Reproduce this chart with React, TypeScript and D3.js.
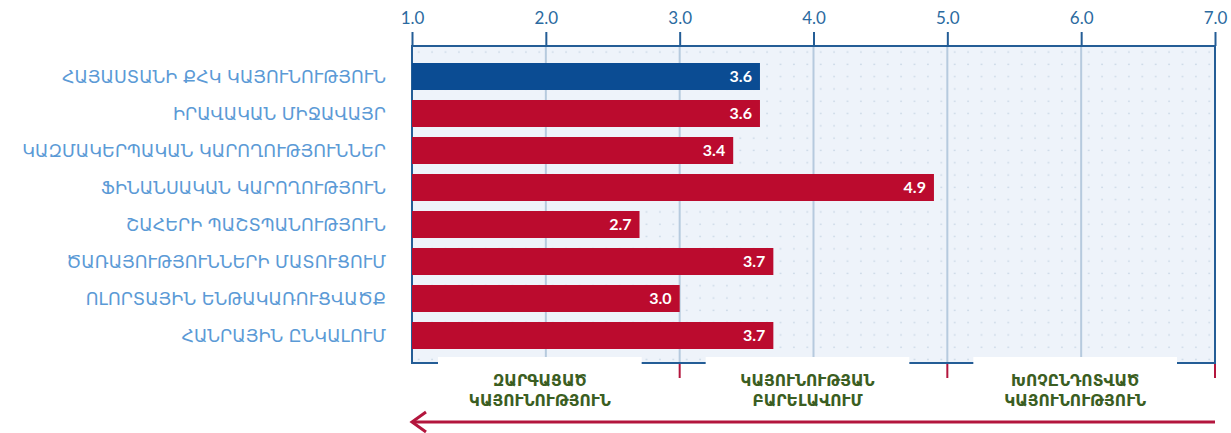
import React, { useRef, useEffect } from "react";
import * as d3 from "d3";

const categories = [
  "ՀԱՅԱՍՏԱՆԻ ՔՀԿ ԿԱՅՈՒՆՈՒԹՅՈՒՆ",
  "ԻՐԱՎԱԿԱՆ ՄԻՋԱՎԱՅՐ",
  "ԿԱԶՄԱԿԵՐՊԱԿԱՆ ԿԱՐՈՂՈՒԹՅՈՒՆՆԵՐ",
  "ՖԻՆԱՆՍԱԿԱՆ ԿԱՐՈՂՈՒԹՅՈՒՆ",
  "ՇԱՀԵՐԻ ՊԱՇՏՊԱՆՈՒԹՅՈՒՆ",
  "ԾԱՌԱՅՈՒԹՅՈՒՆՆԵՐԻ ՄԱՏՈՒՑՈՒՄ",
  "ՈԼՈՐՏԱՅԻՆ ԵՆԹԱԿԱՌՈՒՑՎԱԾՔ",
  "ՀԱՆՐԱՅԻՆ ԸՆԿԱԼՈՒՄ",
];
const scores = [3.6, 3.6, 3.4, 4.9, 2.7, 3.7, 3.0, 3.7];
const tickValues = [1, 2, 3, 4, 5, 6, 7];
const zoneBounds = [
  [1, 3],
  [3, 5],
  [5, 7],
];
const zoneLabels = [
  ["ԶԱՐԳԱՑԱԾ", "ԿԱՅՈՒՆՈՒԹՅՈՒՆ"],
  ["ԿԱՅՈՒՆՈՒԹՅԱՆ", "ԲԱՐԵԼԱՎՈՒՄ"],
  ["ԽՈՉԸՆԴՈՏՎԱԾ", "ԿԱՅՈՒՆՈՒԹՅՈՒՆ"],
];

const App: React.FC = () => {
  const ref = useRef<SVGSVGElement | null>(null);

  useEffect(() => {
    document.body.style.margin = "0";
    if (!ref.current) return;
    const svg = d3.select(ref.current);
    svg.selectAll("*").remove();

    const width = 1231;
    const height = 433;
    const top = 46;
    const bottom = 363;

    const x = d3.scaleLinear().domain([1, 7]).range([412, 1215]);
    const y = d3
      .scaleBand<string>()
      .domain(categories)
      .range([44.5, 367.5])
      .paddingInner(10 / 37)
      .paddingOuter(0.5);

    const blue = "#0b4c93";
    const red = "#bb0b2e";
    const axisBlue = "#245d96";

    svg.attr("width", width).attr("height", height);

    // dotted background
    const defs = svg.append("defs");
    const pat = defs
      .append("pattern")
      .attr("id", "dots")
      .attr("patternUnits", "userSpaceOnUse")
      .attr("x", 412)
      .attr("y", 46)
      .attr("width", 13.4)
      .attr("height", 12.3);
    pat.append("rect").attr("width", 13.4).attr("height", 12.3).attr("fill", "#eef3fa");
    pat.append("circle").attr("cx", 6.7).attr("cy", 6).attr("r", 0.9).attr("fill", "#c9d6e5");

    svg
      .append("rect")
      .attr("x", x(1))
      .attr("y", top)
      .attr("width", x(7) - x(1))
      .attr("height", bottom - top)
      .attr("fill", "url(#dots)");

    // grid lines
    svg
      .selectAll(".grid")
      .data(tickValues.slice(1, -1))
      .enter()
      .append("line")
      .attr("x1", (d) => x(d))
      .attr("x2", (d) => x(d))
      .attr("y1", top)
      .attr("y2", bottom)
      .attr("stroke", "#b6cade")
      .attr("stroke-width", 2);

    // bottom red ticks
    svg
      .selectAll(".rtick")
      .data([3, 5, 7])
      .enter()
      .append("line")
      .attr("x1", (d) => x(d))
      .attr("x2", (d) => x(d))
      .attr("y1", bottom)
      .attr("y2", 378)
      .attr("stroke", "#b3163d")
      .attr("stroke-width", 2);

    // frame
    svg
      .append("path")
      .attr("d", `M${x(1)},${top}H${x(7)}V${bottom}H${x(1)}Z`)
      .attr("fill", "none")
      .attr("stroke", axisBlue)
      .attr("stroke-width", 2);

    // top axis
    const axis = svg
      .append("g")
      .attr("transform", `translate(0,${top})`)
      .call(
        d3
          .axisTop(x)
          .tickValues(tickValues)
          .tickSize(14)
          .tickSizeOuter(0)
          .tickPadding(8)
          .tickFormat(d3.format(".1f"))
      );
    axis.select(".domain").remove();
    axis.selectAll("line").attr("stroke", axisBlue).attr("stroke-width", 2);
    axis
      .selectAll("text")
      .attr("fill", "#2b6aa0")
      .style("font-family", "Lato, 'Open Sans', sans-serif")
      .style("font-size", "17px");

    // bars
    svg
      .selectAll(".bar")
      .data(scores)
      .enter()
      .append("rect")
      .attr("x", x(1))
      .attr("y", (_, i) => y(categories[i])!)
      .attr("width", (d) => x(d) - x(1))
      .attr("height", y.bandwidth())
      .attr("fill", (_, i) => (i === 0 ? blue : red));

    svg
      .selectAll(".val")
      .data(scores)
      .enter()
      .append("text")
      .attr("x", (d) => x(d) - 8)
      .attr("y", (_, i) => y(categories[i])! + y.bandwidth() / 2)
      .attr("dy", "0.36em")
      .attr("text-anchor", "end")
      .attr("fill", "#fff")
      .style("font-family", "Lato, 'Open Sans', sans-serif")
      .style("font-weight", "bold")
      .style("font-size", "16px")
      .text((d) => d.toFixed(1));

    // category labels
    svg
      .selectAll(".cat")
      .data(categories)
      .enter()
      .append("text")
      .attr("x", 386)
      .attr("y", (d) => y(d)! + y.bandwidth() / 2)
      .attr("dy", "0.36em")
      .attr("text-anchor", "end")
      .attr("fill", "#5b9ad6")
      .style("font-family", "'DejaVu Sans', sans-serif")
      .style("font-size", "17.5px")
      .text((d) => d);

    // arrow
    svg
      .append("line")
      .attr("x1", x(1))
      .attr("x2", x(7))
      .attr("y1", 422)
      .attr("y2", 422)
      .attr("stroke", "#b3163d")
      .attr("stroke-width", 3);
    svg
      .append("path")
      .attr("d", `M${x(1) + 14},${412}L${x(1)},${422}L${x(1) + 14},${432}`)
      .attr("fill", "none")
      .attr("stroke", "#b3163d")
      .attr("stroke-width", 3);

    // zone boxes
    const zones = svg
      .selectAll(".zone")
      .data(zoneBounds)
      .enter()
      .append("g");
    zones
      .append("rect")
      .attr("x", (d) => x(d[0]) + 26)
      .attr("y", 357)
      .attr("width", (d) => x(d[1]) - 38 - (x(d[0]) + 26))
      .attr("height", 62)
      .attr("fill", "#fff");
    zones.each(function (d, i) {
      const cx = (x(d[0]) + 26 + x(d[1]) - 38) / 2;
      const t = d3
        .select(this)
        .append("text")
        .attr("text-anchor", "middle")
        .attr("fill", "#3b5e22")
        .style("font-family", "'DejaVu Sans', sans-serif")
        .style("font-weight", "bold")
        .style("font-size", "15.5px");
      zoneLabels[i].forEach((line, j) => {
        t.append("tspan")
          .attr("x", cx)
          .attr("y", 386 + j * 20)
          .text(line);
      });
    });
  }, []);

  return <svg ref={ref}></svg>;
};

export default App;
